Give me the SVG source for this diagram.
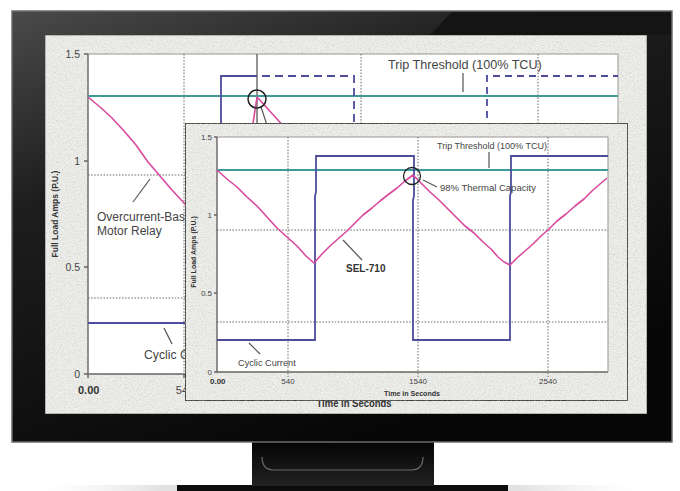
<svg xmlns="http://www.w3.org/2000/svg" width="680" height="491" viewBox="0 0 680 491">
<defs>
<linearGradient id="bez" x1="0" y1="0" x2="0.55" y2="1">
<stop offset="0" stop-color="#4a4a4a"/>
<stop offset="0.35" stop-color="#1e1e1e"/>
<stop offset="1" stop-color="#060606"/>
</linearGradient>
<linearGradient id="neck" x1="0" y1="0" x2="0" y2="1">
<stop offset="0" stop-color="#030303"/>
<stop offset="1" stop-color="#222"/>
</linearGradient>
<linearGradient id="shadow" x1="0" y1="0" x2="1" y2="0">
<stop offset="0" stop-color="#f4f4f4" stop-opacity="0"/>
<stop offset="0.2" stop-color="#e2e2e2"/>
<stop offset="0.8" stop-color="#e2e2e2"/>
<stop offset="1" stop-color="#f4f4f4" stop-opacity="0"/>
</linearGradient>
<filter id="grain" x="0" y="0" width="1" height="1">
<feTurbulence type="fractalNoise" baseFrequency="0.75" numOctaves="3" seed="7" result="t"/>
<feColorMatrix in="t" type="matrix" values="0 0 0 0 0.42  0 0 0 0 0.42  0 0 0 0 0.40  1.1 0 0 0 -0.45" result="m"/>
<feComposite in="m" in2="SourceGraphic" operator="in" result="n"/>
<feMerge><feMergeNode in="SourceGraphic"/><feMergeNode in="n"/></feMerge>
</filter>
<style>
.dot{stroke:#666;stroke-width:1;stroke-dasharray:1.5 1.6;fill:none}
.teal{stroke:#3f9a9c;stroke-width:2;fill:none}
.blue{stroke:#4d4d9c;stroke-width:1.8;fill:none}
.mag{stroke:#d8489d;stroke-width:1.6;fill:none;stroke-linejoin:round}
.axis{stroke:#6b6464;stroke-width:1.4;fill:none}
.frame{stroke:#9a9494;stroke-width:1;fill:none}
.lead{stroke:#555;stroke-width:1.2;fill:none}
.t{font-family:"Liberation Sans",Arial,sans-serif;fill:#444}
.b{font-family:"Liberation Sans",Arial,sans-serif;font-weight:bold;fill:#333}
</style>
</defs>

<g id="stand">
<rect x="40" y="485" width="600" height="6" fill="url(#shadow)"/>
<rect x="177" y="485" width="331" height="6" fill="#0c0c0c"/>
<rect x="252" y="440" width="182" height="46" fill="url(#neck)"/>
<path d="M262 457 Q262 470 274 470 H411 Q423 470 423 457" fill="none" stroke="#6a6a6a" stroke-width="1.2"/>
</g>

<g id="monitor">
<rect x="12" y="11" width="660" height="431" fill="url(#bez)" stroke="#6c6c6c" stroke-width="1.5"/>
<polygon points="452,12 671,12 671,35 430,35" fill="#141414"/>
<rect x="45" y="35" width="602" height="379" fill="#efefec" stroke="#7a7a7a" stroke-width="1" filter="url(#grain)"/>
</g>

<g id="back-chart">
<rect x="88" y="54" width="530" height="320" fill="#fff"/>
<polyline class="frame" points="88,54 618,54 618,374"/>
<polyline class="axis" points="88,54 88,374 620,374"/>
<path class="axis" d="M84 54H88M84 161H88M84 267H88M84 374H88M88 374V378M184 374V378"/>
<path class="dot" d="M184 54V374M361 54V374M538 54V374M88 175H618M88 298H618"/>
<line class="axis" x1="257" y1="54" x2="257" y2="130"/>
<line class="teal" x1="88" y1="96" x2="618" y2="96"/>
<path class="blue" d="M221 130V76H257"/>
<path class="blue" d="M262 76H354V130" stroke-dasharray="8 5"/>
<path class="blue" d="M487 130V76H618" stroke-dasharray="7 5"/>
<line class="blue" x1="88" y1="323" x2="220" y2="323"/>
<path class="mag" d="M88 97 L100 107 L112 118 L124 131 L136 145 L148 162 L160 176 L172 190 L184 203 L196 216"/>
<path class="mag" d="M252 130 L257 97 L287 130"/>
<line class="lead" x1="261" y1="107" x2="268" y2="128"/>
<circle cx="257" cy="99" r="9" fill="none" stroke="#222" stroke-width="1.5"/>
<line class="lead" x1="463" y1="73" x2="463" y2="92"/>
<line class="lead" x1="133" y1="202" x2="150" y2="179"/>
<line class="lead" x1="164" y1="328" x2="172" y2="344"/>
<text class="t" x="388" y="69" font-size="12.6">Trip Threshold (100% TCU)</text>
<text class="t" x="97" y="221" font-size="12">Overcurrent-Based</text>
<text class="t" x="97" y="235" font-size="12">Motor Relay</text>
<text class="t" x="144" y="359" font-size="12.2">Cyclic Current</text>
<text class="t" x="80" y="58" font-size="10.5" text-anchor="end" fill="#555">1.5</text>
<text class="t" x="80" y="165" font-size="10.5" text-anchor="end" fill="#555">1</text>
<text class="t" x="80" y="271" font-size="10.5" text-anchor="end" fill="#555">0.5</text>
<text class="t" x="80" y="378" font-size="10.5" text-anchor="end" fill="#555">0</text>
<text class="b" x="78" y="394" font-size="11">0.00</text>
<text class="t" x="185" y="394" font-size="11" text-anchor="middle" fill="#666">540</text>
<text class="b" x="354" y="407" font-size="11" text-anchor="middle" textLength="75" lengthAdjust="spacingAndGlyphs">Time in Seconds</text>
<text class="b" transform="translate(58 214) rotate(-90)" font-size="8.5" text-anchor="middle">Full Load Amps (P.U.)</text>
</g>

<g id="front-chart">
<rect x="185" y="123" width="443" height="278" fill="#efefec" stroke="#141414" stroke-width="1.6" filter="url(#grain)"/>
<rect x="217" y="137" width="391" height="235" fill="#fff"/>
<polyline class="frame" points="217,137 608,137 608,372"/>
<polyline class="axis" points="217,137 217,372 608,372"/>
<path class="axis" d="M214 137H217M214 215H217M214 293H217M214 372H217" stroke-width="1"/>
<path class="dot" d="M288 137V377M418 137V377M548 137V377M217 230H608M217 322H608"/>
<line class="teal" x1="217" y1="170" x2="608" y2="170"/>
<path class="blue" d="M217 340H315V196L316 192V156H414V196L413 200V340H510V196L511 192V156H608"/>
<path class="mag" d="M217 170 L227 179 L237 187 L247 197 L257 206 L267 217 L277 228 L287 237 L297 246 L306 256 L314 263 L322 254 L330 246 L339 238 L347 231 L355 223 L363 215 L372 208 L380 201 L389 194 L397 188 L405 181 L413 175 L421 183 L430 192 L439 200 L447 208 L456 217 L465 226 L474 233 L483 242 L491 249 L498 257 L504 262 L510 265 L517 258 L525 251 L533 244 L541 236 L549 229 L557 221 L566 214 L575 206 L584 199 L592 191 L600 184 L607 178"/>
<circle cx="412" cy="176" r="8.5" fill="none" stroke="#222" stroke-width="1.3"/>
<line class="lead" x1="489" y1="152" x2="489" y2="168"/>
<line class="lead" x1="423" y1="180" x2="437" y2="187"/>
<line class="lead" x1="343" y1="240" x2="362" y2="260"/>
<line class="lead" x1="249" y1="343" x2="260" y2="354"/>
<text class="t" x="437" y="149" font-size="9">Trip Threshold (100% TCU)</text>
<text class="t" x="440" y="191" font-size="9.5">98% Thermal Capacity</text>
<text class="b" x="346" y="272" font-size="10">SEL-710</text>
<text class="t" x="238" y="366" font-size="9.2">Cyclic Current</text>
<text class="t" x="212" y="140" font-size="8" text-anchor="end" fill="#666">1.5</text>
<text class="t" x="212" y="218" font-size="8" text-anchor="end" fill="#666">1</text>
<text class="t" x="212" y="296" font-size="8" text-anchor="end" fill="#666">0.5</text>
<text class="t" x="212" y="375" font-size="8" text-anchor="end" fill="#666">0</text>
<text class="b" x="210" y="384" font-size="8">0.00</text>
<text class="t" x="288" y="384" font-size="8" text-anchor="middle" fill="#666">540</text>
<text class="t" x="418" y="384" font-size="8" text-anchor="middle" fill="#666">1540</text>
<text class="t" x="548" y="384" font-size="8" text-anchor="middle" fill="#666">2540</text>
<text class="b" x="412" y="396" font-size="7.5" text-anchor="middle" textLength="56" lengthAdjust="spacingAndGlyphs">Time in Seconds</text>
<text class="b" transform="translate(196 252) rotate(-90)" font-size="7" text-anchor="middle">Full Load Amps (P.U.)</text>
</g>
</svg>
